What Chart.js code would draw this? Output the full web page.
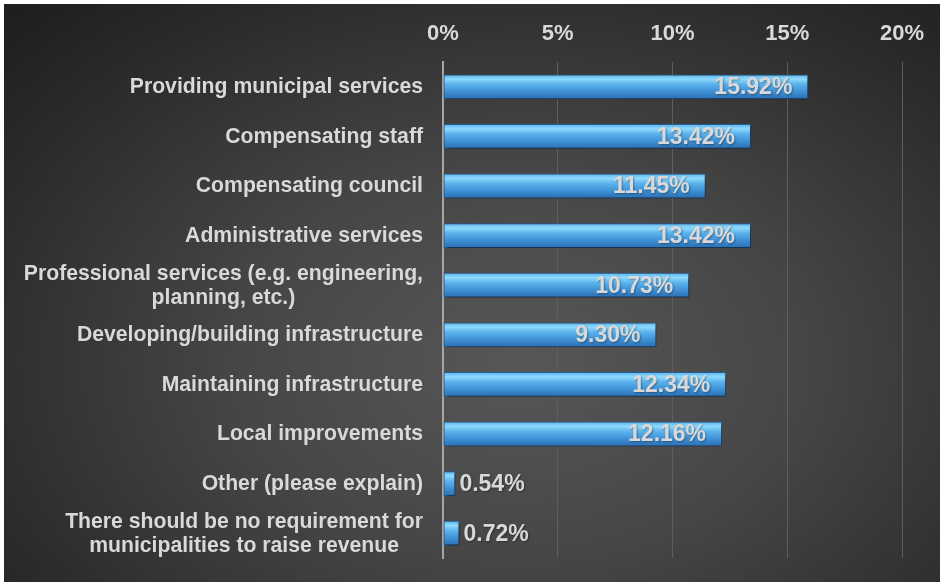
<!DOCTYPE html>
<html>
<head>
<meta charset="utf-8">
<script src="https://cdn.jsdelivr.net/npm/chart.js@4"></script>
<style>
  html, body { margin: 0; padding: 0; background: #ffffff; }
  #wrap {
    position: absolute; left: 4px; top: 4px; width: 936px; height: 578px;
    background: radial-gradient(ellipse 75% 85% at 55% 62%, #575757 0%, #464646 40%, #2b2b2b 80%, #1f1f1f 100%);
  }
  canvas { display: block; }
</style>
</head>
<body>
<div id="wrap"><canvas id="spendChart" width="936" height="578"></canvas></div>
<script>
// ==========================================
// DATA
// ==========================================

const categories = [
  ["Providing municipal services"],
  ["Compensating staff"],
  ["Compensating council"],
  ["Administrative services"],
  ["Professional services (e.g. engineering,", "planning, etc.)"],
  ["Developing/building infrastructure"],
  ["Maintaining infrastructure"],
  ["Local improvements"],
  ["Other (please explain)"],
  ["There should be no requirement for", "municipalities to raise revenue"],
];
const percentValues = [15.92, 13.42, 11.45, 13.42, 10.73, 9.3, 12.34, 12.16, 0.54, 0.72];
const axisMin = 0;
const axisMax = 20;
const axisStep = 5;

const FONT = "'Liberation Sans', Arial, sans-serif";
const TEXT_COLOR = "#d9d9d9";

// ==========================================
// PLUGINS
// ==========================================

// soft drop shadow under the bars
const barShadow = {
  id: "barShadow",
  beforeDatasetsDraw(chart) {
    const ctx = chart.ctx;
    ctx.save();
    ctx.shadowColor = "rgba(0, 0, 0, 0.55)";
    ctx.shadowBlur = 3;
    ctx.shadowOffsetX = 2;
    ctx.shadowOffsetY = 2;
  },
  afterDatasetsDraw(chart) {
    chart.ctx.restore();
  },
};

// category names, centred line by line and right aligned as a block
const categoryLabels = {
  id: "categoryLabels",
  afterDraw(chart) {
    const ctx = chart.ctx;
    const yScale = chart.scales.y;
    const rightEdge = chart.chartArea.left - 20;
    const lineHeight = 24;
    ctx.save();
    ctx.font = "bold 21.2px " + FONT;
    ctx.fillStyle = TEXT_COLOR;
    ctx.textAlign = "center";
    ctx.textBaseline = "middle";
    categories.forEach((lines, i) => {
      const yCenter = yScale.getPixelForValue(i) + 0.5;
      const blockWidth = Math.max(...lines.map((l) => ctx.measureText(l).width));
      const xCenter = rightEdge - blockWidth / 2;
      const top = yCenter - ((lines.length - 1) * lineHeight) / 2;
      lines.forEach((line, j) => {
        ctx.fillText(line, xCenter, top + j * lineHeight);
      });
    });
    ctx.restore();
  },
};

// value labels: inside the bar end, or just past it for tiny bars
const valueLabels = {
  id: "valueLabels",
  afterDatasetsDraw(chart) {
    const ctx = chart.ctx;
    const meta = chart.getDatasetMeta(0);
    ctx.save();
    ctx.font = "bold 23px " + FONT;
    ctx.fillStyle = TEXT_COLOR;
    ctx.textBaseline = "middle";
    ctx.shadowColor = "rgba(0, 0, 0, 0.35)";
    ctx.shadowBlur = 2;
    ctx.shadowOffsetX = 1;
    ctx.shadowOffsetY = 1;
    meta.data.forEach((bar, i) => {
      const text = percentValues[i].toFixed(2) + "%";
      if (percentValues[i] > 3) {
        ctx.textAlign = "right";
        ctx.fillText(text, bar.x - 16, bar.y + 1);
      } else {
        ctx.textAlign = "left";
        ctx.fillText(text, bar.x + 4, bar.y + 1);
      }
    });
    ctx.restore();
  },
};

// ==========================================
// CHART
// ==========================================

function barGradient(context) {
  const chart = context.chart;
  const yScale = chart.scales.y;
  if (!yScale || context.dataIndex === undefined) return "#4ca6e4";
  const yc = yScale.getPixelForValue(context.dataIndex);
  if (!isFinite(yc)) return "#4ca6e4";
  const half = 12;
  const g = chart.ctx.createLinearGradient(0, yc - half, 0, yc + half);
  g.addColorStop(0, "#5ab4ee");
  g.addColorStop(0.18, "#8edafd");
  g.addColorStop(0.4, "#5ab2ec");
  g.addColorStop(0.75, "#3b8bd0");
  g.addColorStop(1, "#2c6fb2");
  return g;
}

function initChart() {
  const ctx = document.getElementById("spendChart");

  new Chart(ctx.getContext("2d"), {
    type: "bar",
    data: {
      labels: categories,
      datasets: [
        {
          data: percentValues,
          backgroundColor: barGradient,
          borderColor: "#24609c",
          borderWidth: 1,
          borderSkipped: false,
          barPercentage: 0.5,
          categoryPercentage: 1,
        },
      ],
    },
    options: {
      indexAxis: "y",
      responsive: false,
      animation: false,
      layout: {
        padding: { top: 18, left: 439, right: 38, bottom: 24 },
      },
      plugins: {
        legend: { display: false },
        tooltip: { enabled: false },
      },
      scales: {
        x: {
          position: "top",
          min: axisMin,
          max: axisMax,
          border: { display: false },
          grid: { color: "#5e5e5e", lineWidth: 1, drawTicks: false },
          ticks: {
            stepSize: axisStep,
            padding: 15,
            color: TEXT_COLOR,
            font: { family: FONT, size: 22, weight: "bold" },
            callback: function (value) {
              return value + "%";
            },
          },
          afterFit: function (scale) {
            scale.height = 40;
          },
        },
        y: {
          grid: { display: false },
          border: { display: true, color: "#a6a6a6", width: 2 },
          ticks: { display: false },
          afterFit: function (scale) {
            scale.width = 0;
          },
        },
      },
    },
    plugins: [barShadow, valueLabels, categoryLabels],
  });
}

document.addEventListener("DOMContentLoaded", function () {
  initChart();
});
</script>
</body>
</html>
